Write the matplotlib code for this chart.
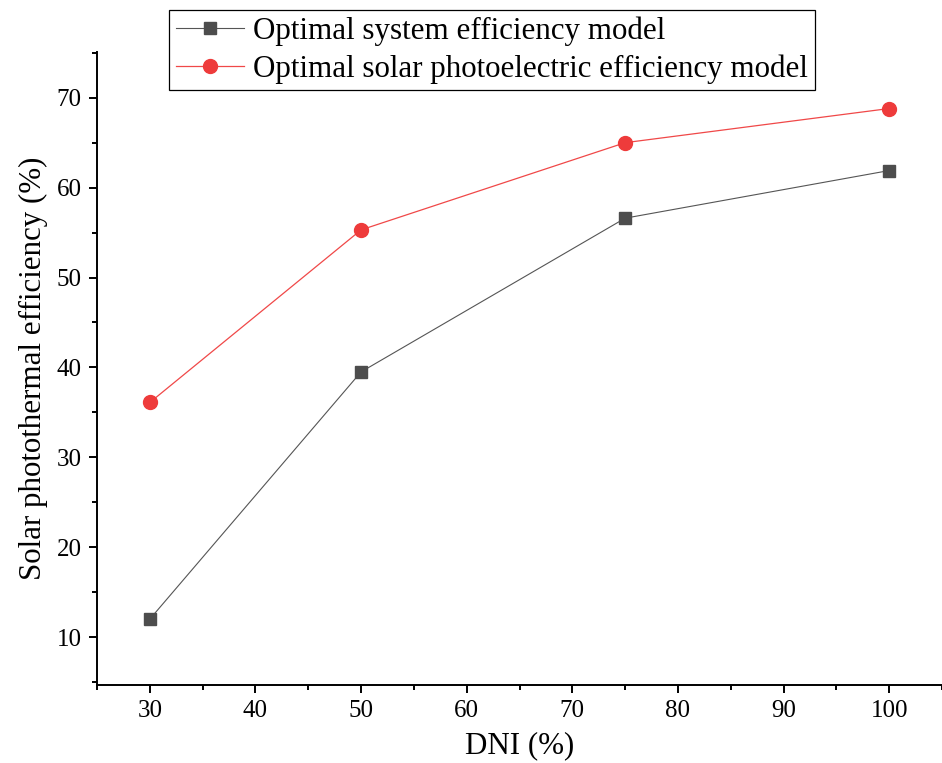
import matplotlib
matplotlib.use("Agg")
import matplotlib.pyplot as plt
from matplotlib.ticker import MultipleLocator

plt.rcParams['font.family'] = ['Liberation Serif', 'DejaVu Serif']
plt.rcParams['mathtext.fontset'] = 'stix'

dni = [30, 50, 75, 100]
system_eff = [12.0, 39.5, 56.6, 61.9]
photoelectric_eff = [36.1, 55.3, 65.0, 68.8]

labels = ["Optimal system efficiency model",
          "Optimal solar photoelectric efficiency model"]

fig = plt.figure(figsize=(9.42, 7.63), dpi=100)
ax = fig.add_axes([0.103, 0.102, 0.897, 0.830])

ax.plot(dni, system_eff, color='#555555', lw=0.8, marker='s', ms=8.5,
        mfc='#4d4d4d', mec='#4d4d4d', label=labels[0])
ax.plot(dni, photoelectric_eff, color='#f04848', lw=0.9, marker='o', ms=10,
        mfc='#ee3b3b', mec='#ee3b3b', label=labels[1])

ax.set_xlim(25, 105)
ax.set_ylim(4.65, 75.1)
ax.xaxis.set_major_locator(MultipleLocator(10))
ax.xaxis.set_minor_locator(MultipleLocator(5))
ax.yaxis.set_major_locator(MultipleLocator(10))
ax.yaxis.set_minor_locator(MultipleLocator(5))

for s in ['top', 'right']:
    ax.spines[s].set_visible(False)
for s in ['left', 'bottom']:
    ax.spines[s].set_linewidth(1.4)

ax.tick_params(which='major', direction='out', length=6, width=1.4,
               labelsize=18, pad=5)
ax.tick_params(which='minor', direction='out', length=3.5, width=1.4)

ax.set_xlabel("DNI (%)", fontsize=22.3, labelpad=6)
ax.set_ylabel("Solar photothermal efficiency (%)", fontsize=22.3, labelpad=6)

leg = ax.legend(loc='upper left', bbox_to_anchor=(169 / 942, 1 - 10 / 763),
                bbox_transform=fig.transFigure, borderaxespad=0,
                fontsize=22.3, frameon=True, fancybox=False, framealpha=1,
                edgecolor='black', handlelength=2.2, handletextpad=0.3,
                labelspacing=0.25, borderpad=0.22)
leg.get_frame().set_linewidth(0.9)

fig.savefig("out.png", dpi=100)
